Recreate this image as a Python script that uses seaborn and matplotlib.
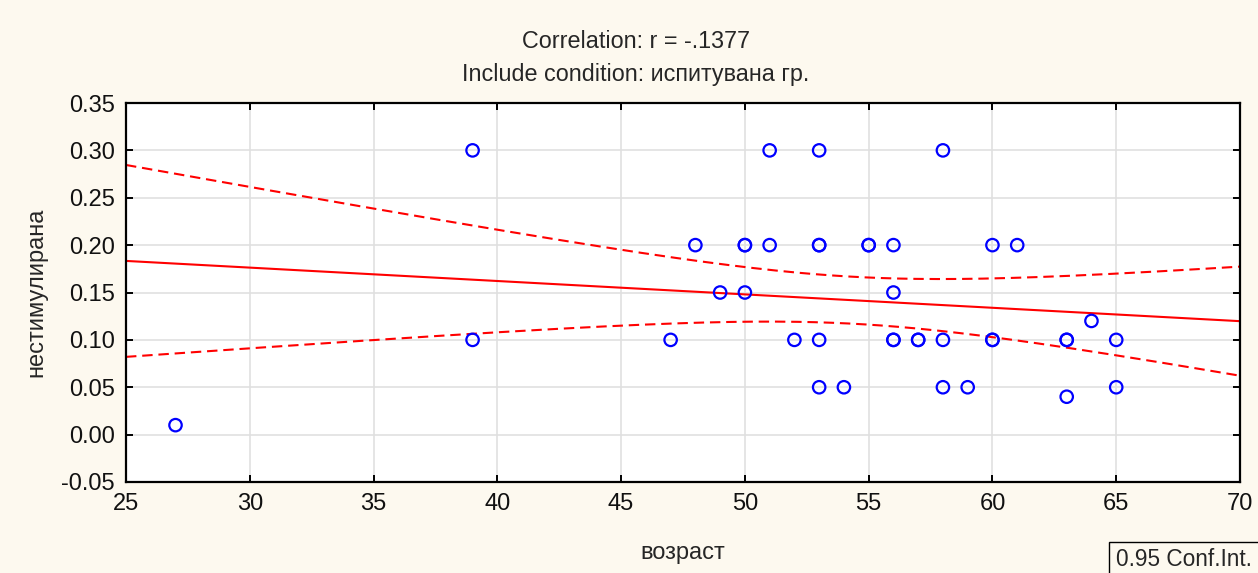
import numpy as np
import pandas as pd
import matplotlib
matplotlib.use("Agg")
import matplotlib.pyplot as plt
import seaborn as sns

# data
age = [27, 39, 39, 47, 48, 49, 50, 50, 50, 51, 51, 52, 53, 53, 53, 53, 53,
       54, 55, 55, 56, 56, 56, 56, 57, 57, 58, 58, 58, 59, 60, 60, 60, 61,
       63, 63, 63, 64, 65, 65]
value = [0.01, 0.30, 0.10, 0.10, 0.20, 0.15, 0.20, 0.20, 0.15, 0.30, 0.20, 0.10, 0.30, 0.20, 0.20, 0.10, 0.05,
         0.05, 0.20, 0.20, 0.20, 0.15, 0.10, 0.10, 0.10, 0.10, 0.30, 0.10, 0.05, 0.05, 0.20, 0.10, 0.10, 0.20,
         0.10, 0.10, 0.04, 0.12, 0.10, 0.05]
title_lines = ["Correlation: r = -.1377", "Include condition: испитувана гр."]
x_label = "возраст"
y_label = "нестимулирана"
x_ticks = [25, 30, 35, 40, 45, 50, 55, 60, 65, 70]
y_ticks = [-0.05, 0.00, 0.05, 0.10, 0.15, 0.20, 0.25, 0.30, 0.35]
legend_text = "0.95 Conf.Int."

sns.set_theme(style="white")
plt.rcParams['font.family'] = ['Liberation Sans', 'DejaVu Sans']

bg = "#fdf9ef"
fs = 17
fig = plt.figure(figsize=(12.58, 5.73), dpi=100, facecolor=bg)
ax = fig.add_axes([126/1258, 1 - 482/573, (1240-126)/1258, (482-103)/573])
ax.set_facecolor("white")

df = pd.DataFrame({"age": age, "value": value})

# regression line and 95% confidence band of the mean
x = np.asarray(age, float)
y = np.asarray(value, float)
n = len(x)
b, a = np.polyfit(x, y, 1)
resid = y - (a + b * x)
s = np.sqrt(np.sum(resid**2) / (n - 2))
tcrit = 2.024
xs = np.linspace(25, 70, 200)
fit = a + b * xs
se = s * np.sqrt(1/n + (xs - x.mean())**2 / np.sum((x - x.mean())**2))
fit_df = pd.DataFrame({"x": xs, "fit": fit, "lo": fit - tcrit*se, "hi": fit + tcrit*se})

sns.lineplot(data=fit_df, x="x", y="fit", ax=ax, color="red", lw=1.5)
sns.lineplot(data=fit_df, x="x", y="lo", ax=ax, color="red", lw=1.5, linestyle=(0, (5, 2.8)))
sns.lineplot(data=fit_df, x="x", y="hi", ax=ax, color="red", lw=1.5, linestyle=(0, (5, 2.8)))
sns.scatterplot(data=df, x="age", y="value", ax=ax, marker="o", s=80,
                facecolors="none", edgecolor="blue", linewidth=1.6, zorder=5)

ax.set_xlim(25, 70)
ax.set_ylim(-0.05, 0.35)
ax.set_xticks(x_ticks)
ax.set_xticklabels([str(t) for t in x_ticks])
ax.set_yticks(y_ticks)
ax.set_yticklabels([f"{t:.2f}" for t in y_ticks])
ax.grid(True, color="#e0e0e0", lw=1.2)
ax.set_axisbelow(True)
for sp in ax.spines.values():
    sp.set_visible(True)
    sp.set_color("black")
    sp.set_linewidth(1.6)
ax.tick_params(axis="both", direction="in", length=5, width=1.4, labelsize=fs,
               colors="black", top=True, right=True, left=True, bottom=True, pad=8)
ax.tick_params(axis="both", labelcolor="#111111")
ax.set_xlabel(x_label, fontsize=fs, labelpad=19)
ax.set_ylabel(y_label, fontsize=fs, labelpad=10)

fig.text(636/1258, 1 - 41/573, title_lines[0], ha="center", va="center", fontsize=16.8)
fig.text(636/1258, 1 - 74/573, title_lines[1], ha="center", va="center", fontsize=16.8)
fig.text(1116/1258, 1 - 560/573, legend_text, ha="left", va="center", fontsize=16.3,
         bbox=dict(boxstyle="square,pad=0.3", facecolor=bg, edgecolor="black", lw=1))

fig.savefig("out.png", dpi=100, facecolor=bg)
